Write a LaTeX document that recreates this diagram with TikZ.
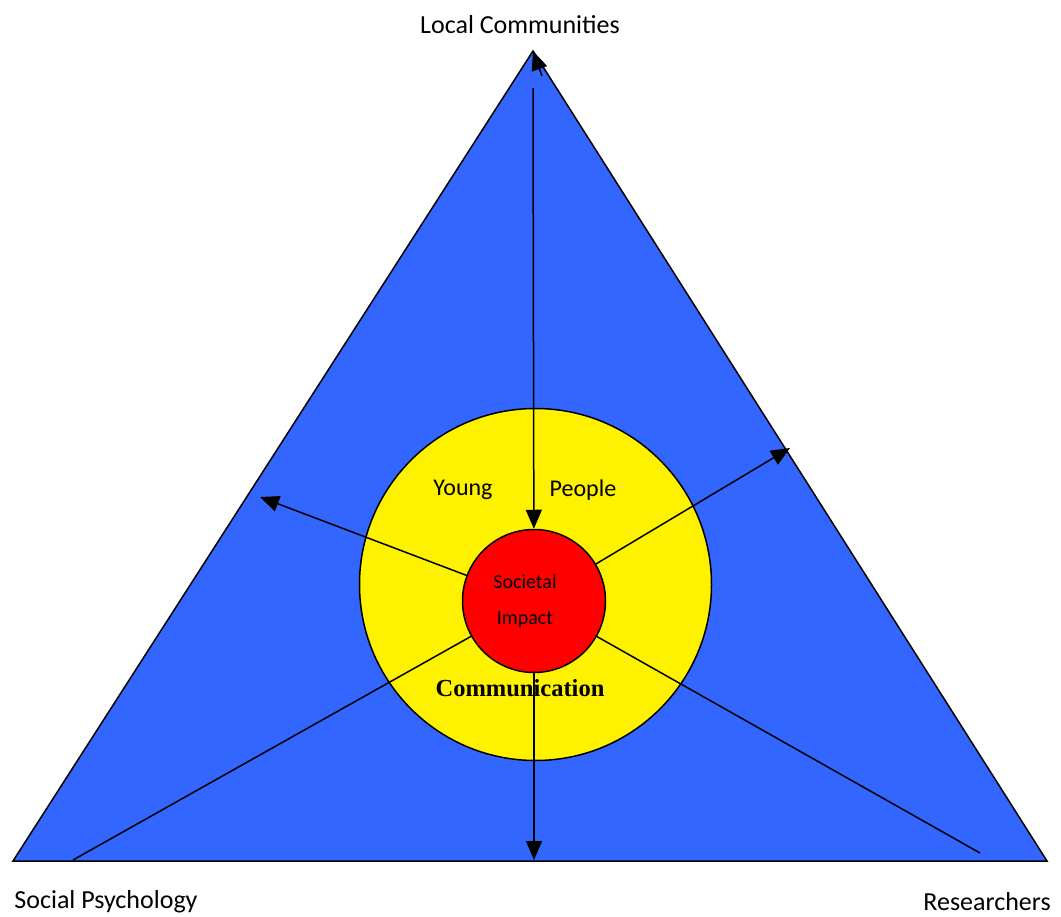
\documentclass[tikz,border=0pt]{standalone}
\usepackage{fontspec}
\setmainfont{Carlito}
\newfontfamily\serifbold{Liberation Serif}
\usetikzlibrary{arrows.meta}
\definecolor{triblue}{HTML}{3366FF}
\tikzset{
  conn/.style={draw=black, line width=1.5pt},
  arr/.style={conn, -{Triangle[length=19pt,width=16pt]}},
  lab/.style={font=\fontsize{26}{30}\selectfont, inner sep=0pt},
  inlab/.style={font=\fontsize{24}{28}\selectfont, inner sep=0pt},
}
\begin{document}
\begin{tikzpicture}[x=1pt,y=-1pt]
\useasboundingbox (0,0) rectangle (1061,917);
% triangle
\coordinate (apex) at (533,51);
\coordinate (bl) at (13,861);
\coordinate (br) at (1047,861);
\draw[fill=triblue, line width=1.5pt, line join=miter] (apex) -- (br) -- (bl) -- cycle;
% circles
\node[circle, draw=black, line width=1.5pt, fill=yellow, minimum size=352pt, inner sep=0pt] (yellow) at (535.5,584.5) {};
\node[circle, draw=black, line width=1.5pt, fill=red, minimum size=143pt, inner sep=0pt] (redc) at (534,601) {};
% coordinates
\coordinate (topstart) at (533,88);
\coordinate (ur) at (790,448);
\coordinate (ul) at (260,497);
\coordinate (ll) at (73,860);
\coordinate (lr) at (980,853);
\coordinate (bot) at (534,860);
\coordinate (apexbase) at (542,76);
% connectors
\draw[arr] (topstart) -- (redc);
\draw[arr] (apexbase) -- (apex);
\draw[arr] (redc) -- (ur);
\draw[arr] (redc) -- (ul);
\draw[arr] (redc.south) -- (bot);
\draw[conn] (redc) -- (ll);
\draw[conn] (redc) -- (lr);
% labels
\node[lab] (lc) at (520,25) {Local Communities};
\node[lab] (sp) at (106,902) {Social Psychology};
\node[lab] (rs) at (987,902) {Researchers};
\node[inlab] (yg) at (463,490) {Young};
\node[inlab] (pp) at (583,490) {People};
\node[font=\fontsize{20}{23}\selectfont, inner sep=0pt] (soc) at (525,582) {Societal};
\node[font=\fontsize{20}{23}\selectfont, inner sep=0pt] (imp) at (525,620) {Impact};
\node[font=\serifbold\bfseries\fontsize{24.5}{28}\selectfont, inner sep=0pt] (com) at (520,688) {Communication};
\end{tikzpicture}
\end{document}
